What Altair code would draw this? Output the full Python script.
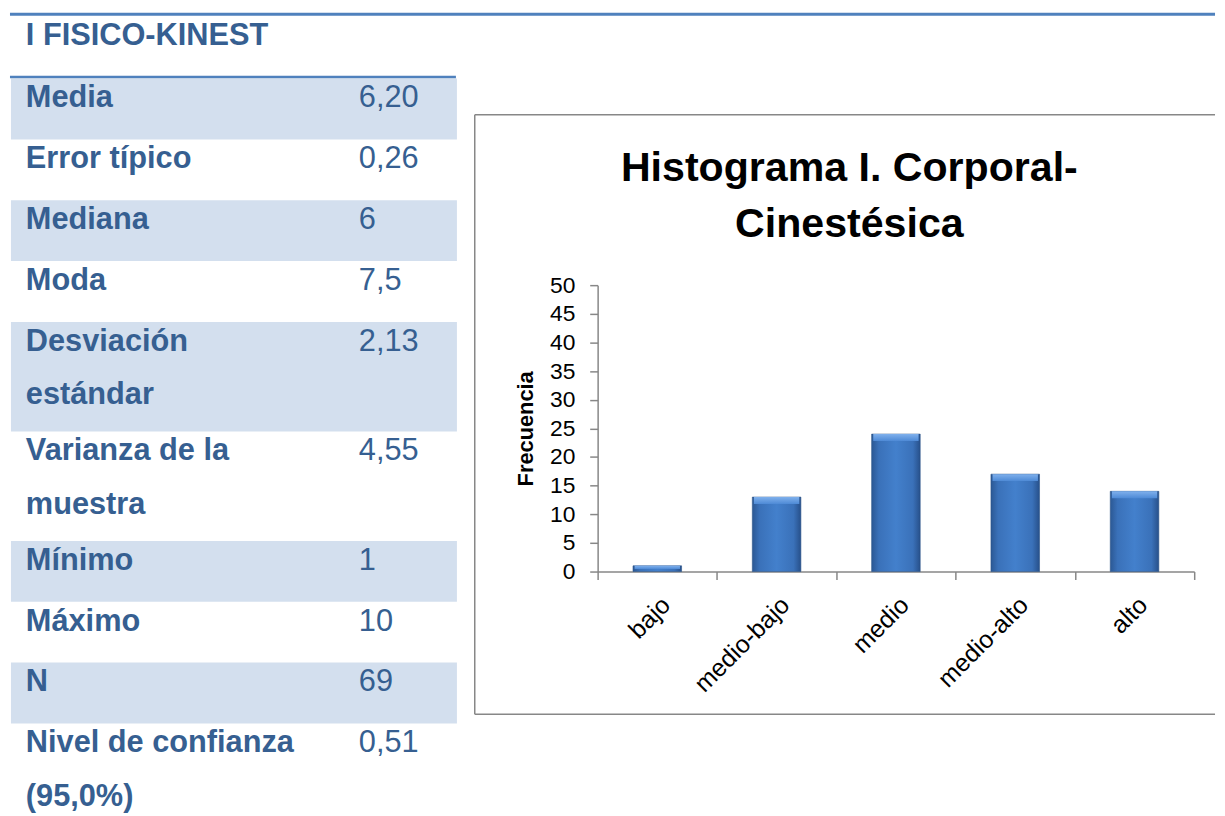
import altair as alt
import pandas as pd

# ---------------- data ----------------
table_title = "I FISICO-KINEST"
stat_names = ["Media", "Error típico", "Mediana", "Moda", "Desviación\nestándar",
              "Varianza de la\nmuestra", "Mínimo", "Máximo", "N",
              "Nivel de confianza\n(95,0%)"]
stat_values = ["6,20", "0,26", "6", "7,5", "2,13", "4,55", "1", "10", "69", "0,51"]

categories = ["bajo", "medio-bajo", "medio", "medio-alto", "alto"]
frequencies = [1, 13, 24, 17, 14]
chart_title = ["Histograma I. Corporal-", "Cinestésica"]
y_title = "Frecuencia"
y_ticks = [0, 5, 10, 15, 20, 25, 30, 35, 40, 45, 50]

# ---------------- styles / layout ----------------
FONT = "Liberation Sans, Arial, sans-serif"
TXT = "#365F91"
LINEC = "#4F81BD"
SHADE = "#D3DFEE"
GRAY = "#878787"

W1, H1 = 452, 806
TOP0, ROW1, ROW2, LINE, BASE = 67.5, 61.4, 110.5, 54, 29

rows, name_lines, value_lines = [], [], []
top = TOP0
for i, (n, v) in enumerate(zip(stat_names, stat_values)):
    parts = n.split("\n")
    h = ROW1 if len(parts) == 1 else ROW2
    rows.append({"y0": top, "y1": top + h, "shade": i % 2 == 0})
    for j, p in enumerate(parts):
        name_lines.append({"yb": top + BASE + j * LINE, "text": p})
    value_lines.append({"yb": top + BASE, "text": v})
    top += h

rows_df = pd.DataFrame(rows)
shade_df = rows_df[rows_df["shade"]]
names_df = pd.DataFrame(name_lines)
values_df = pd.DataFrame(value_lines)
one = pd.DataFrame({"k": [0]})

ys = alt.Scale(domain=[0, H1], range=[0, H1])

shade = alt.Chart(shade_df).mark_rect(color=SHADE).encode(
    x=alt.value(1), x2=alt.value(451),
    y=alt.Y("y0:Q", scale=ys, axis=None), y2="y1:Q")

top_rule = alt.Chart(one).mark_rule(color=LINEC, strokeWidth=3).encode(
    x=alt.value(0), x2=alt.value(1216), y=alt.value(2.7))
rule2 = alt.Chart(one).mark_rule(color=LINEC, strokeWidth=2.5).encode(
    x=alt.value(0), x2=alt.value(450), y=alt.value(66))
ttitle = alt.Chart(one).mark_text(align="left", baseline="alphabetic", font=FONT,
                                  fontSize=31, fontWeight="bold", color=TXT).encode(
    x=alt.value(16), y=alt.value(33.7), text=alt.value(table_title))

names = alt.Chart(names_df).mark_text(align="left", baseline="alphabetic", font=FONT,
                                      fontSize=31, fontWeight="bold", color=TXT).encode(
    x=alt.value(16), y=alt.Y("yb:Q", scale=ys, axis=None), text="text:N")
vals = alt.Chart(values_df).mark_text(align="left", baseline="alphabetic", font=FONT,
                                      fontSize=31, color=TXT).encode(
    x=alt.value(352), y=alt.Y("yb:Q", scale=ys, axis=None), text="text:N")

panel1 = alt.layer(shade, top_rule, rule2, ttitle, names, vals).properties(width=W1, height=H1)

# ---------------- bar chart ----------------
bars_df = pd.DataFrame({"cat": categories, "freq": frequencies})

grad = alt.LinearGradient(
    gradient="linear", x1=0, x2=1, y1=0, y2=0,
    stops=[alt.GradientStop(offset=0, color="#2B5894"),
           alt.GradientStop(offset=0.15, color="#3A71B9"),
           alt.GradientStop(offset=0.5, color="#4380CC"),
           alt.GradientStop(offset=0.85, color="#3A71B9"),
           alt.GradientStop(offset=1, color="#27508A")])
bevel = alt.LinearGradient(
    gradient="linear", x1=0, x2=0, y1=0, y2=1,
    stops=[alt.GradientStop(offset=0, color="#7FB0EC"),
           alt.GradientStop(offset=1, color="#4E8AD6")])

xenc = alt.X("cat:N", sort=categories,
             scale=alt.Scale(domain=categories, paddingInner=0, paddingOuter=0),
             axis=alt.Axis(title=None, labelAngle=-45, tickBand="extent", labelFont=FONT,
                           labelFontSize=25, labelColor="black", domainColor=GRAY,
                           tickColor=GRAY, tickSize=8, domainWidth=1.5, tickWidth=1.5,
                           labelPadding=13, grid=False))
yscale = alt.Scale(domain=[0, 50], range=[565, 276], nice=False)

bars = alt.Chart(bars_df).mark_bar(width=alt.RelativeBandSize(0.407), color=grad,
                                   stroke="#2B5287", strokeWidth=0.6).encode(
    x=xenc,
    y=alt.Y("freq:Q", scale=yscale,
            axis=alt.Axis(values=y_ticks, title=y_title, titleFont=FONT, titleFontSize=22,
                          titleFontWeight="bold", titleColor="black", titlePadding=12,
                          labelFont=FONT, labelFontSize=23, labelColor="black",
                          domainColor=GRAY, tickColor=GRAY, tickSize=8, domainWidth=1.5,
                          tickWidth=1.5, labelPadding=15, grid=False)))

caps = alt.Chart(bars_df).transform_calculate(
    capb="max(datum.freq - 1.2, datum.freq * 0.45)").mark_bar(
    width=alt.RelativeBandSize(0.38), color=bevel).encode(
    x=xenc, y=alt.Y("freq:Q", scale=yscale), y2="capb:Q")

frame_l = alt.Chart(one).mark_rule(color=GRAY, strokeWidth=1.5).encode(
    x=alt.value(-124), y=alt.value(104), y2=alt.value(709))
frame_t = alt.Chart(one).mark_rule(color=GRAY, strokeWidth=1.5).encode(
    x=alt.value(-124), x2=alt.value(623), y=alt.value(104))
frame_b = alt.Chart(one).mark_rule(color=GRAY, strokeWidth=1.5).encode(
    x=alt.value(-124), x2=alt.value(623), y=alt.value(709))

ctitle = alt.Chart(one).mark_text(align="center", baseline="alphabetic", font=FONT,
                                  fontSize=41.5, fontWeight="bold", color="black",
                                  lineHeight=56).encode(
    x=alt.value(254), y=alt.value(171), text=alt.value(chart_title))

panel2 = alt.layer(frame_l, frame_t, frame_b, ctitle, bars, caps).properties(
    width=602, height=565)

chart = alt.hconcat(panel1, panel2, spacing=141, bounds="flush").properties(
    padding=0).configure_view(stroke=None)

chart.save("out.html", embed_options={"renderer": "svg", "actions": False})
